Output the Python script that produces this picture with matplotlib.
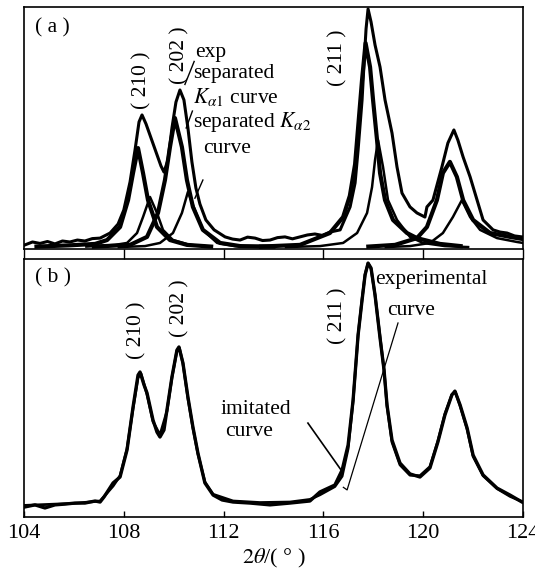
import matplotlib
matplotlib.use("Agg")
import matplotlib.pyplot as plt

plt.rcParams['font.family'] = ['Liberation Serif', 'DejaVu Serif']
plt.rcParams['mathtext.fontset'] = 'stix'

# ---------------- data (2theta in degrees, intensity in % of panel height) ----------------
# panel (a): experimental curve
exp_a_x = [104.04, 104.34, 104.64, 104.94, 105.24, 105.54, 105.84, 106.14, 106.44, 106.74, 107.05,
           107.45, 107.77, 108.0, 108.25, 108.45,
           108.61, 108.73, 108.89, 109.09, 109.29, 109.49, 109.61, 109.77, 109.93, 110.09, 110.25,
           110.41, 110.57, 110.73, 110.89, 111.05, 111.29, 111.62, 112.06, 112.36, 112.66, 112.96,
           113.26, 113.56, 113.86, 114.16, 114.46, 114.76, 115.06, 115.36, 115.66, 115.96, 116.26,
           116.67, 117.07, 117.27, 117.39, 117.55, 117.63, 117.71,
           117.79, 117.91, 118.07, 118.27, 118.47, 118.75, 118.95, 119.15, 119.47, 119.75, 120.07,
           120.15, 120.39, 120.75, 120.99, 121.23, 121.39, 121.6, 121.88, 122.16, 122.4, 122.8,
           123.08, 123.36, 123.66, 123.96]
exp_a_y = [1.7, 2.9, 2.3, 3.1, 2.1, 3.3, 2.9, 3.7, 3.3, 4.3, 4.5,
           6.6, 10.3, 16.1, 27.7, 40.9,
           52.5, 55.4, 51.7, 45.9, 40.1, 34.3, 31.8, 36.8, 50.0, 60.7, 65.7,
           61.6, 50.0, 36.0, 25.2, 18.6, 12.0, 7.9, 5.0, 4.1, 3.7, 4.9,
           4.5, 3.5, 3.7, 4.7, 5.0, 4.2, 5.0, 5.8, 6.2, 5.6, 7.0,
           7.9, 17.4, 27.3, 40.9, 61.6, 77.0, 91.0,
           99.2, 93.8, 84.3, 75.2, 61.6, 47.9, 33.9, 23.1, 17.4, 14.9, 13.2,
           17.4, 20.2, 33.9, 43.8, 49.2, 45.0, 38.0, 29.8, 20.2, 12.0, 7.9,
           7.0, 6.6, 5.4, 5.0]

# panel (a): separated K-alpha1 profiles
ka1_210_x = [104.5, 105.8, 106.85, 107.33, 107.85, 108.17, 108.37, 108.57, 108.77, 108.97, 109.33,
             109.85, 110.53, 111.5]
ka1_210_y = [1.0, 1.5, 2.1, 3.7, 9.1, 20.2, 31.4, 41.7, 31.4, 20.2, 9.1, 3.7, 1.7, 1.0]
ka1_202_x = [106.8, 108.25, 108.93, 109.37, 109.65, 109.85, 110.05, 110.33, 110.53, 110.77, 111.17,
             111.86, 112.66, 114.0]
ka1_202_y = [1.0, 1.7, 5.0, 14.9, 28.5, 42.1, 54.1, 42.1, 28.5, 17.4, 7.9, 2.5, 1.2, 1.0]
ka1_211_x = [113.5, 115.06, 116.26, 116.79, 117.06, 117.27, 117.39, 117.55, 117.69, 117.87, 117.99,
             118.15, 118.27, 118.47, 118.79, 119.35, 119.75, 120.67, 121.5]
ka1_211_y = [1.0, 1.7, 6.6, 13.2, 22.0, 35.0, 50.0, 70.0, 85.1, 75.2, 61.6,
             45.0, 31.4, 20.2, 12.0, 6.6, 4.5, 2.1, 1.2]
ka1_4_x = [117.8, 118.87, 119.75, 120.15, 120.55, 120.79, 121.07, 121.35, 121.6, 122.0, 122.68,
           123.48, 124.0]
ka1_4_y = [1.0, 1.7, 4.5, 9.1, 20.2, 31.4, 36.0, 29.8, 20.2, 12.0, 6.6, 5.0, 4.1]

# panel (a): separated K-alpha2 profiles
ka2_210_x = [106.5, 107.65, 108.13, 108.53, 108.77, 109.05, 109.33, 109.57, 109.97, 110.65, 111.5]
ka2_210_y = [1.0, 1.7, 2.5, 6.6, 13.2, 21.5, 14.9, 7.9, 3.7, 1.7, 1.0]
ka2_202_x = [107.8, 108.85, 109.45, 109.97, 110.33, 110.57, 110.85, 111.17, 111.74, 112.46, 113.5]
ka2_202_y = [0.8, 1.2, 2.5, 6.6, 14.9, 23.6, 16.1, 7.9, 2.5, 1.2, 0.8]
ka2_211_x = [114.5, 115.86, 116.79, 117.35, 117.75, 117.95, 118.07, 118.19, 118.39, 118.59, 118.95,
             119.47, 119.99, 120.87, 121.8]
ka2_211_y = [0.8, 1.2, 2.5, 6.6, 14.9, 25.6, 36.8, 45.0, 33.9, 20.2, 12.0, 5.0, 2.5, 1.2, 0.8]
ka2_4_x = [118.5, 119.47, 120.27, 120.79, 121.19, 121.55, 121.88, 122.28, 122.96, 123.76, 124.0]
ka2_4_y = [0.8, 1.2, 2.5, 6.6, 13.2, 20.2, 13.2, 7.9, 4.5, 2.9, 2.5]

# panel (b): experimental and imitated curves
exp_b_x = [104.04, 104.44, 104.84, 105.24, 105.64, 106.04, 106.44, 106.85, 107.05, 107.21, 107.57,
           107.85, 108.13, 108.37, 108.57, 108.65, 108.81, 108.93, 109.17, 109.33, 109.45, 109.61,
           109.73, 109.93, 110.13, 110.21, 110.37, 110.57, 110.77, 110.97, 111.25, 111.58, 111.94,
           112.38, 113.06, 113.86, 114.66, 115.46, 115.86, 116.46, 116.75, 116.99, 117.19, 117.39,
           117.55, 117.67, 117.79, 117.91, 118.07, 118.27, 118.43, 118.55, 118.75, 119.07, 119.47,
           119.87, 120.27, 120.59, 120.87, 121.15, 121.27, 121.48, 121.76, 122.0, 122.4, 122.96,
           123.48, 123.96]
exp_b_y = [3.9, 4.7, 3.5, 4.7, 5.0, 5.4, 5.4, 6.2, 5.8, 7.8, 13.2,
           15.5, 26.0, 42.6, 55.0, 56.2, 51.2, 48.1, 37.6, 32.9, 31.0, 33.7,
           41.5, 54.3, 64.7, 65.9, 59.7, 46.5, 34.9, 24.8, 13.2, 8.5, 6.6,
           5.8, 5.4, 4.7, 5.4, 6.2, 9.7, 12.4, 18.2, 27.9, 45.3, 70.5,
           84.1, 93.8, 98.4, 96.5, 86.0, 69.4, 57.0, 43.4, 29.8, 20.9, 16.7,
           15.5, 19.0, 29.1, 39.5, 47.3, 48.8, 43.4, 34.5, 24.0, 16.3, 11.2,
           8.5, 5.8]
imit_b_x = [104.04, 105.04, 106.04, 107.05, 107.57, 107.85, 108.13, 108.37, 108.57, 108.69, 108.93,
            109.17, 109.45, 109.73, 109.93, 110.13, 110.23, 110.37, 110.57, 110.77, 110.97, 111.25,
            111.58, 112.38, 113.46, 114.66, 115.46, 115.86, 116.46, 116.75, 116.99, 117.19, 117.39,
            117.55, 117.67, 117.79, 117.91, 118.07, 118.27, 118.43, 118.55, 118.75, 119.07, 119.47,
            119.87, 120.27, 120.59, 120.87, 121.15, 121.29, 121.48, 121.76, 122.0, 122.4, 122.96,
            123.48, 123.96]
imit_b_y = [4.5, 4.9, 5.3, 6.2, 12.0, 16.0, 26.5, 42.0, 54.0, 55.6, 47.5,
            37.0, 31.8, 41.0, 54.0, 64.5, 65.5, 59.5, 46.0, 34.5, 24.5, 13.6,
            8.8, 6.2, 5.6, 5.8, 6.8, 8.6, 11.8, 15.8, 26.5, 45.0, 70.5,
            84.5, 94.0, 98.4, 96.2, 86.0, 69.8, 57.0, 43.0, 29.0, 20.2, 16.2,
            16.0, 19.5, 29.5, 40.0, 47.5, 48.5, 43.0, 34.0, 23.5, 16.0, 11.0,
            8.0, 6.0]

xticks = [104, 108, 112, 116, 120, 124]
xlabels = ['104', '108', '112', '116', '120', '124']

# ---------------- figure ----------------
fig = plt.figure(figsize=(5.35, 5.8), dpi=100)
W, H = 535.0, 580.0
L, R = 24, 523
ax_a = fig.add_axes([L / W, (H - 249) / H, (R - L) / W, 242 / H])
ax_b = fig.add_axes([L / W, (H - 517) / H, (R - L) / W, 258 / H])

k = 'black'
for ax in (ax_a, ax_b):
    ax.set_xlim(104, 124)
    ax.set_ylim(0, 100)
    ax.set_yticks([])
    for s in ax.spines.values():
        s.set_linewidth(1.2)
        s.set_color(k)

# panel (a)
ax_a.plot(exp_a_x, exp_a_y, color=k, lw=2.2, solid_joinstyle='round')
for xs, ys in [(ka1_210_x, ka1_210_y), (ka1_202_x, ka1_202_y), (ka1_211_x, ka1_211_y), (ka1_4_x, ka1_4_y)]:
    ax_a.plot(xs, ys, color=k, lw=3.0, solid_joinstyle='round')
for xs, ys in [(ka2_210_x, ka2_210_y), (ka2_202_x, ka2_202_y), (ka2_211_x, ka2_211_y), (ka2_4_x, ka2_4_y)]:
    ax_a.plot(xs, ys, color=k, lw=1.8, solid_joinstyle='round')
ax_a.set_xticks(xticks)
ax_a.tick_params(axis='x', bottom=False, labelbottom=False)

tf = dict(color=k, fontsize=15.5)
ax_a.text(104.44, 91.5, '( a )', ha='left', va='center', **tf)
ax_a.text(108.73, 69.8, '( 210 )', rotation=90, ha='center', va='center', **tf)
ax_a.text(110.25, 80.2, '( 202 )', rotation=90, ha='center', va='center', **tf)
ax_a.text(116.58, 78.9, '( 211 )', rotation=90, ha='center', va='center', **tf)
ax_a.text(110.85, 81.0, 'exp', ha='left', va='center', **tf)
ax_a.text(110.77, 72.6, 'separated', ha='left', va='center', **tf)
ax_a.text(110.77, 62.8, r'$K_{\alpha 1}$ curve', ha='left', va='center', **tf)
ax_a.text(110.77, 52.6, r'separated $K_{\alpha 2}$', ha='left', va='center', **tf)
ax_a.text(111.17, 41.5, 'curve', ha='left', va='center', **tf)
ax_a.plot([110.82, 110.45], [77.5, 68.0], color=k, lw=1.0)
ax_a.plot([110.75, 110.5], [57.0, 50.0], color=k, lw=1.0)
ax_a.plot([111.17, 110.85], [28.5, 21.0], color=k, lw=1.0)

# panel (b)
ax_b.plot(imit_b_x, imit_b_y, color=k, lw=2.0, solid_joinstyle='round')
ax_b.plot(exp_b_x, exp_b_y, color=k, lw=2.4, solid_joinstyle='round')
ax_b.set_xticks(xticks)
ax_b.set_xticklabels(xlabels)
ax_b.tick_params(axis='x', which='both', direction='in', length=4, width=1.0,
                 top=True, labelsize=16, pad=5)
for t in ax_b.xaxis.get_ticklines()[1::2]:
    t.set_marker(2)
    t.set_markersize(7)
ax_b.set_xlabel(r'$2\theta$/( ° )', fontsize=16, labelpad=3)

ax_b.text(104.44, 92.6, '( b )', ha='left', va='center', **tf)
ax_b.text(108.53, 72.5, '( 210 )', rotation=90, ha='center', va='center', **tf)
ax_b.text(110.25, 81.0, '( 202 )', rotation=90, ha='center', va='center', **tf)
ax_b.text(116.58, 77.9, '( 211 )', rotation=90, ha='center', va='center', **tf)
ax_b.text(118.07, 91.9, 'experimental', ha='left', va='center', **tf)
ax_b.text(118.55, 80.2, 'curve', ha='left', va='center', **tf)
ax_b.text(111.86, 41.5, 'imitated', ha='left', va='center', **tf)
ax_b.text(112.06, 33.0, 'curve', ha='left', va='center', **tf)
ax_b.plot([115.38, 116.71], [36.4, 18.2], color=k, lw=1.2)
ax_b.plot([118.99, 116.95, 116.8], [75.2, 10.5, 11.5], color=k, lw=0.9)

fig.savefig('out.png', dpi=100)
